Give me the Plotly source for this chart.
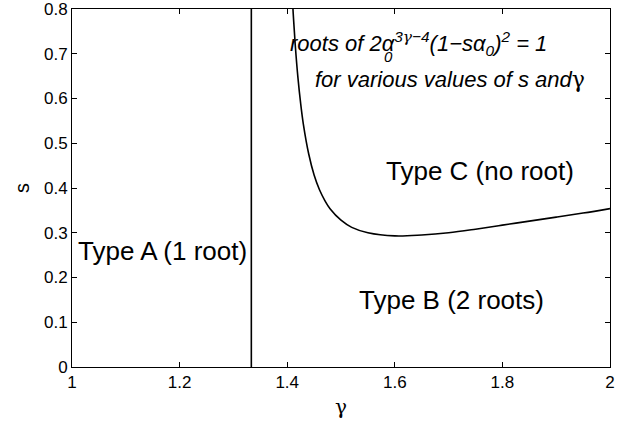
import plotly.graph_objects as go

# Boundary curve s(gamma) separating Type B (two roots) from Type C (no root)
gamma_curve = [1.405, 1.41, 1.412, 1.415, 1.42, 1.425, 1.43, 1.44, 1.45, 1.46, 1.47,
               1.48, 1.50, 1.52, 1.55, 1.60, 1.65, 1.70, 1.75, 1.80, 1.85, 1.90,
               1.95, 2.00]
s_curve = [0.943, 0.815, 0.774, 0.719, 0.646, 0.589, 0.543, 0.476, 0.429, 0.396, 0.372,
           0.353, 0.328, 0.312, 0.300, 0.293, 0.295, 0.300, 0.308, 0.317, 0.326, 0.335,
           0.344, 0.354]

# Vertical boundary at gamma = 4/3 (Type A to the left)
gamma_vline = [4 / 3, 4 / 3]
s_vline = [0.0, 0.8]

x_ticks = [1.0, 1.2, 1.4, 1.6, 1.8, 2.0]
x_ticklabels = ["1", "1.2", "1.4", "1.6", "1.8", "2"]
y_ticks = [0.0, 0.1, 0.2, 0.3, 0.4, 0.5, 0.6, 0.7, 0.8]
y_ticklabels = ["0", "0.1", "0.2", "0.3", "0.4", "0.5", "0.6", "0.7", "0.8"]

region_labels = ["Type A (1 root)", "Type B (2 roots)", "Type C (no root)"]
region_x = [1.168, 1.705, 1.758]
region_y = [0.259, 0.150, 0.438]

FONT = "Liberation Sans, Arial, Helvetica, sans-serif"
GREEK = "DejaVu Serif"
G = '<span style="font-family:%s">γ</span>' % GREEK

fig = go.Figure()
fig.add_trace(go.Scatter(x=gamma_vline, y=s_vline, mode="lines",
                         line=dict(color="black", width=1.6), showlegend=False))
fig.add_trace(go.Scatter(x=gamma_curve, y=s_curve, mode="lines", line_shape="spline",
                         line=dict(color="black", width=1.6), showlegend=False))

for txt, gx, sy in zip(region_labels, region_x, region_y):
    fig.add_annotation(x=gx, y=sy, xref="x", yref="y", text=txt, showarrow=False,
                       font=dict(family=FONT, size=26, color="black"),
                       xanchor="center", yanchor="middle")

# Equation caption in the upper right
fig.add_annotation(x=0.4015, y=0.905, xref="paper", yref="paper",
                   text="<i>roots of 2α<sup>3" + G + "−4</sup>(1−sα<sub>0</sub>)<sup>2</sup> = 1</i>",
                   showarrow=False, xanchor="left", yanchor="middle",
                   font=dict(family=FONT, size=22, color="black"))
fig.add_annotation(x=0.589, y=0.866, xref="paper", yref="paper",
                   text="<i>0</i>", showarrow=False, xanchor="center", yanchor="middle",
                   font=dict(family=FONT, size=15, color="black"))
fig.add_annotation(x=0.448, y=0.802, xref="paper", yref="paper",
                   text="<i>for various values of s and</i>" + G,
                   showarrow=False, xanchor="left", yanchor="middle",
                   font=dict(family=FONT, size=22, color="black"))

axis_common = dict(showline=True, linecolor="black", linewidth=1, mirror="ticks",
                   ticks="inside", ticklen=5, tickwidth=1, tickcolor="black",
                   showgrid=False, zeroline=False, ticklabeloverflow="allow",
                   tickfont=dict(family=FONT, size=17, color="black"))

fig.update_xaxes(range=[1, 2.00001], tickvals=x_ticks, ticktext=x_ticklabels,
                 title=dict(text="γ", font=dict(family=GREEK, size=20, color="black"),
                            standoff=8),
                 **axis_common)
fig.update_yaxes(range=[0, 0.80001], tickvals=y_ticks, ticktext=y_ticklabels,
                 title=dict(text="s", font=dict(family=FONT, size=20, color="black"),
                            standoff=8),
                 **axis_common)

fig.update_layout(width=628, height=423, plot_bgcolor="white", paper_bgcolor="white",
                  margin=dict(l=72, r=18, t=9, b=56, autoexpand=False))

fig.write_html("out.html")
